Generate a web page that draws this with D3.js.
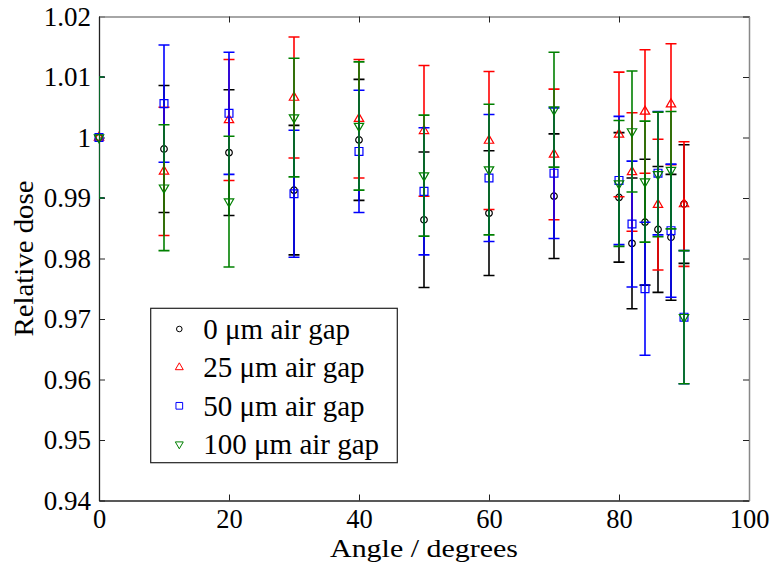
<!DOCTYPE html>
<html>
<head>
<meta charset="utf-8">
<script src="https://cdn.jsdelivr.net/npm/d3@7"></script>
<style>
  body { margin: 0; background: #fff; }
  svg text { font-family: "Liberation Serif", "DejaVu Serif", serif !important; }
</style>
</head>
<body>
<div id="chart"></div>
<script>
// angles (degrees) shared by every series
const angles = [0, 10, 20, 30, 40, 50, 60, 70, 80, 82, 84, 86, 88, 90];

// relative dose and its error
const gap0 = [1.0, 0.9981, 0.9975, 0.9913, 0.9996, 0.9864, 0.9875, 0.9903, 0.9901, 0.9825, 0.9860, 0.9848, 0.9835, 0.9890];
const gap0Err = [0.010, 0.0105, 0.0104, 0.0107, 0.0100, 0.0112, 0.0103, 0.0103, 0.0107, 0.0108, 0.0104, 0.0104, 0.0104, 0.0098];

const gap25 = [1.0, 0.9944, 1.0029, 1.0066, 1.0031, 1.0011, 0.9995, 0.9972, 1.0005, 0.9943, 1.0043, 0.9889, 1.0055, 0.9890];
const gap25Err = [0.010, 0.0106, 0.0100, 0.0100, 0.0098, 0.0108, 0.0114, 0.0108, 0.0103, 0.0098, 0.0102, 0.0108, 0.0100, 0.0103];

const gap50 = [1.0, 1.0056, 1.0040, 0.9907, 0.9977, 0.9911, 0.9933, 0.9941, 0.9929, 0.9857, 0.9750, 0.9941, 0.9846, 0.9703];
const gap50Err = [0.010, 0.0097, 0.0101, 0.0105, 0.0101, 0.0105, 0.0105, 0.0108, 0.0106, 0.0104, 0.0110, 0.0102, 0.0110, 0.0110];

const gap100 = [1.0, 0.9917, 0.9894, 1.0033, 1.0019, 0.9937, 0.9947, 1.0046, 0.9924, 1.0010, 0.9927, 0.9939, 0.9946, 0.9703];
const gap100Err = [0.010, 0.0104, 0.0108, 0.0098, 0.0106, 0.0100, 0.0108, 0.0095, 0.0104, 0.0100, 0.0100, 0.0103, 0.0097, 0.0110];

const labels = ["0 \u03bcm air gap", "25 \u03bcm air gap", "50 \u03bcm air gap", "100 \u03bcm air gap"];
const xTicks = [0, 20, 40, 60, 80, 100];
const yTicks = [0.94, 0.95, 0.96, 0.97, 0.98, 0.99, 1.0, 1.01, 1.02];

const series = [
    {name: labels[0], values: gap0, errs: gap0Err, color: "#000000", shape: "circle"},
    {name: labels[1], values: gap25, errs: gap25Err, color: "#ff0000", shape: "up"},
    {name: labels[2], values: gap50, errs: gap50Err, color: "#0000ff", shape: "square"},
    {name: labels[3], values: gap100, errs: gap100Err, color: "#008000", shape: "down"}
];

const serif = "Liberation Serif";

// set the dimensions and margins of the graph
const margin = {top: 16.5, right: 24, bottom: 63.5, left: 99},
    width = 773 - margin.left - margin.right,
    height = 564 - margin.top - margin.bottom;

const svg = d3.select("#chart")
  .append("svg")
    .attr("width", width + margin.left + margin.right)
    .attr("height", height + margin.top + margin.bottom)
    .attr("font-family", serif)
  .append("g")
    .attr("transform", `translate(${margin.left}, ${margin.top})`);

const x = d3.scaleLinear().domain([0, 100]).range([0, width]);
const y = d3.scaleLinear().domain([0.94, 1.02]).range([height, 0]);

// axes with inward ticks
const tick = 6;
svg.append("g")
    .attr("transform", `translate(0, ${height})`)
    .call(d3.axisBottom(x).tickValues(xTicks).tickSizeInner(-tick).tickSizeOuter(0).tickPadding(7))
    .call(g => g.attr("font-family", serif))
    .call(g => g.selectAll("text").attr("font-family", serif).attr("font-size", 26.5).attr("dy", "0.76em"));

svg.append("g")
    .call(d3.axisLeft(y).tickValues(yTicks).tickFormat(d => String(+d.toFixed(2))).tickSizeInner(-tick).tickSizeOuter(0).tickPadding(8))
    .call(g => g.attr("font-family", serif))
    .call(g => g.selectAll("text").attr("font-family", serif).attr("font-size", 27));

svg.append("g")
    .call(d3.axisTop(x).tickValues(xTicks).tickSizeInner(-tick).tickSizeOuter(0).tickFormat(""))
    .call(g => g.select(".domain").attr("stroke", "#888").attr("stroke-width", 1.5));

svg.append("g")
    .attr("transform", `translate(${width}, 0)`)
    .call(d3.axisRight(y).tickValues(yTicks).tickSizeInner(-tick).tickSizeOuter(0).tickFormat(""))
    .call(g => g.select(".domain").attr("stroke", "#888").attr("stroke-width", 1.5));

svg.selectAll(".domain").filter(function() { return !this.getAttribute("stroke-width"); })
    .attr("stroke", "#222").attr("stroke-width", 1.3);
svg.selectAll(".tick line").attr("stroke", "#222");

// axis labels
svg.append("text")
    .attr("x", width / 2)
    .attr("y", 557 - margin.top)
    .attr("text-anchor", "middle")
    .attr("font-family", serif)
    .attr("font-size", 26)
    .attr("textLength", 188)
    .attr("lengthAdjust", "spacingAndGlyphs")
    .text("Angle / degrees");

svg.append("text")
    .attr("transform", `translate(${33 - margin.left}, ${height / 2}) rotate(-90)`)
    .attr("text-anchor", "middle")
    .attr("font-family", serif)
    .attr("font-size", 27)
    .attr("textLength", 156)
    .attr("lengthAdjust", "spacingAndGlyphs")
    .text("Relative dose");

// clip the error bars to the plot area
svg.append("defs").append("clipPath")
    .attr("id", "clip")
  .append("rect")
    .attr("width", width)
    .attr("height", height);

const symbolPath = (shape, s) => {
    if (shape === "circle") return d3.symbol(d3.symbolCircle, 34 * s * s)();
    if (shape === "square") return d3.symbol(d3.symbolSquare, 62 * s * s)();
    return d3.symbol(d3.symbolTriangle, 38 * s * s)();
};

const capW = 5.5;
series.forEach(s => {
    const pts = angles.map((a, i) => ({a: a, v: s.values[i], e: s.errs[i]}));
    const bars = svg.append("g").attr("clip-path", "url(#clip)")
        .attr("stroke", s.color).attr("stroke-width", 1.6);

    bars.selectAll(".bar").data(pts).enter().append("line")
        .attr("x1", d => x(d.a)).attr("x2", d => x(d.a))
        .attr("y1", d => y(d.v - d.e)).attr("y2", d => y(d.v + d.e));
    bars.selectAll(".capHi").data(pts).enter().append("line")
        .attr("x1", d => x(d.a) - capW).attr("x2", d => x(d.a) + capW)
        .attr("y1", d => y(d.v + d.e)).attr("y2", d => y(d.v + d.e));
    bars.selectAll(".capLo").data(pts).enter().append("line")
        .attr("x1", d => x(d.a) - capW).attr("x2", d => x(d.a) + capW)
        .attr("y1", d => y(d.v - d.e)).attr("y2", d => y(d.v - d.e));

    svg.append("g").selectAll("path").data(pts).enter().append("path")
        .attr("d", symbolPath(s.shape, 1))
        .attr("transform", d => `translate(${x(d.a)}, ${y(d.v)})` + (s.shape === "down" ? " rotate(180)" : ""))
        .attr("fill", "none")
        .attr("stroke", s.color)
        .attr("stroke-width", 1.2);
});

// legend
const legend = svg.append("g")
    .attr("transform", `translate(${150.7 - margin.left}, ${308.3 - margin.top})`);

legend.append("rect")
    .attr("width", 246.6)
    .attr("height", 154.4)
    .attr("fill", "#fff")
    .attr("stroke", "#222")
    .attr("stroke-width", 1.2);

series.forEach((s, i) => {
    const row = legend.append("g").attr("transform", `translate(0, ${20.7 + i * 38.4})`);
    row.append("path")
        .attr("d", symbolPath(s.shape, 0.85))
        .attr("transform", `translate(28.6, 0)` + (s.shape === "down" ? " rotate(180)" : ""))
        .attr("fill", "none")
        .attr("stroke", s.color)
        .attr("stroke-width", 1);
    row.append("text")
        .attr("x", 52.6)
        .attr("y", 10)
        .attr("font-family", serif)
        .attr("font-size", 29)
        .text(s.name);
});
</script>
</body>
</html>
